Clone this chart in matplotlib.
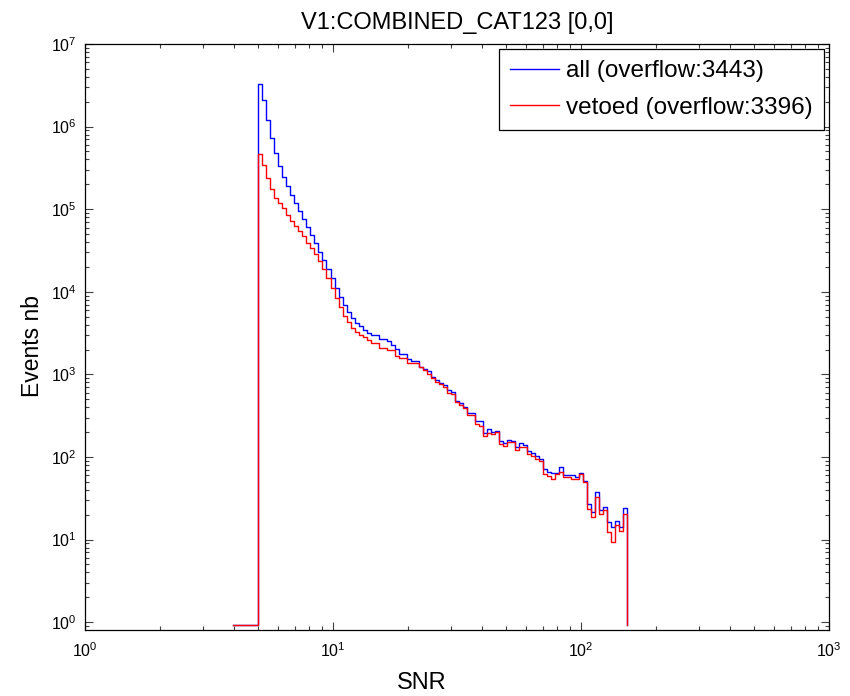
import numpy as np
import matplotlib
matplotlib.use('Agg')
import matplotlib.pyplot as plt
from matplotlib.ticker import LogLocator, NullFormatter

# ---------------- data ----------------
title_text = 'V1:COMBINED_CAT123 [0,0]'
x_label = 'SNR'
y_label = 'Events nb'
all_label = 'all (overflow:3443)'
vetoed_label = 'vetoed (overflow:3396)'

snr_min = 5.0        # first bin edge
snr_max = 153.5      # last bin edge
n_bins = 92          # log-spaced bins
under_edge = 3.94    # left edge of the empty bin drawn at the floor
floor_value = 0.92   # value drawn for empty bins

all_counts = [
    3.30e6, 2.10e6, 1.19e6, 7.22e5, 4.79e5, 3.33e5, 2.45e5, 1.91e5, 1.49e5, 1.19e5,
    9.51e4, 7.61e4, 6.14e4, 4.87e4, 3.93e4, 3.06e4, 2.43e4, 1.87e4, 1.46e4, 1.12e4,
    8730, 6920, 5690, 4780, 4230, 3860, 3450, 3150, 3000, 3000,
    2710, 2710, 2560, 2270, 2010, 1770, 1770, 1520, 1470, 1470,
    1220, 1170, 1110, 938, 855, 794, 745, 647, 607, 476,
    447, 406, 344, 344, 273, 273, 194, 218, 202, 208,
    157, 147, 161, 156, 133, 149, 140, 118, 111, 103,
    93.8, 71.6, 66.4, 63.5, 63.5, 76.3, 60.5, 60.5, 60.5, 57.7,
    64.6, 51.6, 26.7, 21.8, 38.0, 22.8, 25.0, 16.2, 14.1, 16.9,
    14.1, 24.3,
]

vetoed_counts = [
    4.62e5, 3.43e5, 2.39e5, 1.75e5, 1.37e5, 1.19e5, 1.02e5, 8.58e4, 7.26e4, 6.30e4,
    5.40e4, 4.70e4, 3.93e4, 3.36e4, 2.87e4, 2.36e4, 1.89e4, 1.47e4, 1.10e4, 8490,
    6610, 5140, 4350, 3610, 3290, 3000, 2810, 2610, 2420, 2420,
    2100, 2100, 1970, 1970, 1670, 1570, 1570, 1360, 1360, 1360,
    1240, 1130, 1010, 897, 816, 759, 698, 590, 574, 459,
    427, 389, 322, 322, 251, 239, 180, 194, 190, 202,
    144, 136, 153, 153, 122, 132, 132, 109, 104, 93.8,
    90.2, 62.2, 58.9, 53.7, 61.8, 66.4, 56.8, 56.8, 54.2, 54.2,
    62.2, 50.2, 23.3, 18.9, 33.0, 20.4, 22.8, 12.5, 9.35, 15.0,
    12.8, 20.4,
]

# ---------------- style ----------------
plt.rcParams['font.family'] = ['Liberation Sans', 'DejaVu Sans']
plt.rcParams['mathtext.default'] = 'regular'

fig = plt.figure(figsize=(8.5, 6.96), dpi=100)
ax = fig.add_axes([85 / 850, 66 / 696, 744 / 850, 586 / 696])

edges = np.logspace(np.log10(snr_min), np.log10(snr_max), n_bins + 1)


def step_xy(counts):
    x = np.concatenate([[under_edge], edges])
    y = np.concatenate([[floor_value], counts, [floor_value]])
    return x, y


xa, ya = step_xy(all_counts)
xv, yv = step_xy(vetoed_counts)
ax.plot(xa, ya, drawstyle='steps-post', color='#0000ff', lw=1.0, label=all_label)
ax.plot(xv, yv, drawstyle='steps-post', color='#ff0000', lw=1.0, label=vetoed_label)

ax.set_xscale('log')
ax.set_yscale('log')
ax.set_xlim(1, 1000)
ax.set_ylim(0.805, 1e7)

ax.xaxis.set_major_locator(LogLocator(base=10, numticks=10))
ax.yaxis.set_major_locator(LogLocator(base=10, numticks=12))
ax.xaxis.set_minor_locator(LogLocator(base=10, subs=np.arange(2, 10), numticks=20))
ax.yaxis.set_minor_locator(LogLocator(base=10, subs=np.arange(2, 10), numticks=20))
ax.xaxis.set_minor_formatter(NullFormatter())
ax.yaxis.set_minor_formatter(NullFormatter())

ax.tick_params(which='both', direction='in', top=True, right=True,
               color='#404040', width=0.8, labelsize=11.5)
ax.tick_params(which='major', length=5.5)
ax.tick_params(which='minor', length=3)
ax.tick_params(axis='x', which='major', pad=8)
ax.tick_params(axis='y', which='major', pad=6)

for s in ax.spines.values():
    s.set_linewidth(0.9)
    s.set_color('black')

ax.set_title(title_text, fontsize=17, pad=11)
ax.set_xlabel(x_label, fontsize=17)
ax.xaxis.set_label_coords(0.452, -0.072)
ax.set_ylabel(y_label, fontsize=16.5)
ax.yaxis.set_label_coords(-0.055, 0.485)

leg = ax.legend(loc='upper right', fontsize=17.5, fancybox=False, framealpha=1,
                edgecolor='black', borderaxespad=0.22, handlelength=2.0,
                handletextpad=0.3, borderpad=0.45, labelspacing=0.6)
leg.get_frame().set_linewidth(0.9)

fig.savefig('out.png', dpi=100)
